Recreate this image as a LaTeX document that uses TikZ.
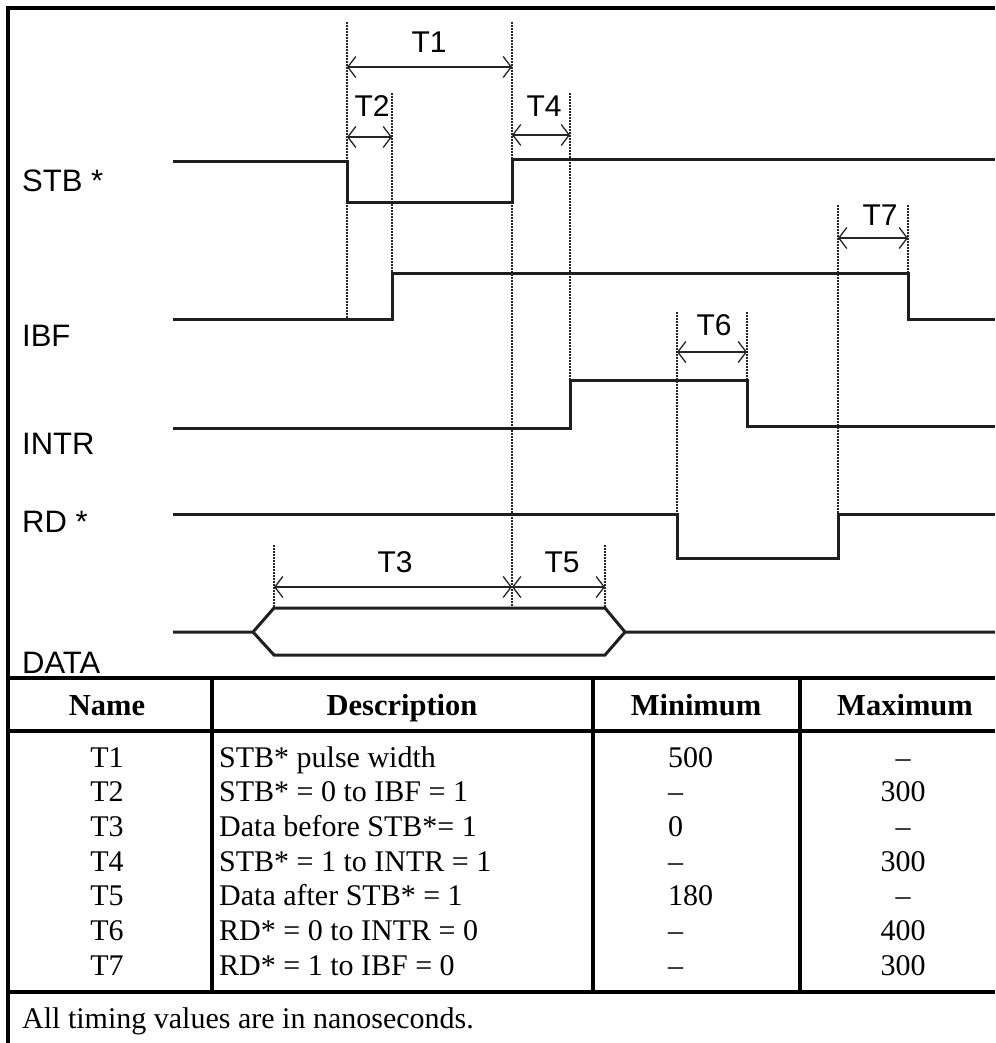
\documentclass[tikz,border=0pt]{standalone}
\usepackage{fontspec}
\setmainfont{Liberation Serif}
\newfontfamily\labelfont{Liberation Sans}
\usetikzlibrary{arrows.meta}
\begin{document}
\begin{tikzpicture}[x=1pt,y=-1pt,
  sig/.style={line width=3pt, color=black!88, line join=miter},
  frame/.style={line width=3.2pt, black},
  guide/.style={line width=1.4pt, dash pattern=on 1.6pt off 1.4pt, black!85},
  dim/.style={line width=1.3pt, black!85, {Straight Barb[length=8pt,width=21pt]}-{Straight Barb[length=8pt,width=21pt]}},
  tlbl/.style={font=\labelfont\fontsize{30}{36}\selectfont, inner sep=0pt, anchor=base},
  siglbl/.style={font=\labelfont\fontsize{31}{37}\selectfont, inner sep=0pt, anchor=base west},
  th/.style={font=\bfseries\fontsize{30.5}{36}\selectfont, inner sep=0pt, anchor=base},
  tc/.style={font=\fontsize{30}{35}\selectfont, inner sep=0pt, anchor=base},
  tw/.style={font=\fontsize{30}{35}\selectfont, inner sep=0pt, anchor=base west}
]
\useasboundingbox (0,0) rectangle (995,1043);
% outer frame
\draw[frame] (6.4,8) -- (995,8);
\draw[frame] (8,6.4) -- (8,1043);
% signal names
\node[siglbl] (nstb) at (22,191) {STB *};
\node[siglbl] (nibf) at (22,346) {IBF};
\node[siglbl] (nintr) at (22,454) {INTR};
\node[siglbl] (nrd) at (22,532) {RD *};
\node[siglbl] (ndata) at (22,673) {DATA};
% guides
\draw[guide] (347,22) -- (347,319);
\draw[guide] (392,93) -- (392,273);
\draw[guide] (512,22) -- (512,608);
\draw[guide] (570,93) -- (570,380);
\draw[guide] (677,312) -- (677,514);
\draw[guide] (747,312) -- (747,380);
\draw[guide] (838,205) -- (838,514);
\draw[guide] (908,205) -- (908,273);
\draw[guide] (274,545) -- (274,608);
\draw[guide] (605,545) -- (605,608);
% signals
\draw[sig] (173,162) -- (347,162) -- (347,202) -- (512,202) -- (512,160) -- (995,160);
\draw[sig] (173,319) -- (392,319) -- (392,273) -- (908,273) -- (908,319) -- (995,319);
\draw[sig] (173,428) -- (570,428) -- (570,380) -- (747,380) -- (747,426) -- (995,426);
\draw[sig] (173,514) -- (677,514) -- (677,558) -- (838,558) -- (838,514) -- (995,514);
\draw[sig] (173,632) -- (253,632) -- (274,608) -- (605,608) -- (625,632) -- (995,632);
\draw[sig] (253,632) -- (274,655) -- (605,655) -- (625,632);
% dimension arrows
\draw[dim] (347,67) -- (512,67);
\draw[dim] (347,137) -- (392,137);
\draw[dim] (512,135) -- (570,135);
\draw[dim] (838,238) -- (908,238);
\draw[dim] (677,352) -- (747,352);
\draw[dim] (274,587) -- (512,587);
\draw[dim] (512,587) -- (605,587);
\node[tlbl] (t1) at (429,53) {T1};
\node[tlbl] (t2) at (372,117) {T2};
\node[tlbl] (t4) at (544,117) {T4};
\node[tlbl] (t7) at (880,225) {T7};
\node[tlbl] (t6) at (714,335) {T6};
\node[tlbl] (t3) at (395,572) {T3};
\node[tlbl] (t5) at (562,572) {T5};
% table
\draw[frame] (6.4,678) -- (995,678);
\draw[frame] (6.4,731) -- (995,731);
\draw[frame] (6.4,992) -- (995,992);
\draw[frame] (212,678) -- (212,992);
\draw[frame] (593,678) -- (593,992);
\draw[frame] (800,678) -- (800,992);
\node[th] (hname) at (107,715) {Name};
\node[th] (hdesc) at (402,715) {Description};
\node[th] (hmin) at (696,715) {Minimum};
\node[th] (hmax) at (905,715) {Maximum};
\foreach \i/\n/\d/\mn/\mx in {0/T1/{STB* pulse width}/500/--,
  1/T2/{STB* = 0 to IBF = 1}/--/300,
  2/T3/{Data before STB*= 1}/0/--,
  3/T4/{STB* = 1 to INTR = 1}/--/300,
  4/T5/{Data after STB* = 1}/180/--,
  5/T6/{RD* = 0 to INTR = 0}/--/400,
  6/T7/{RD* = 1 to IBF = 0}/--/300}{
  \node[tc] (rn\i) at (107,{767+34.7*\i}) {\n};
  \node[tw] (rd\i) at (219,{767+34.7*\i}) {\d};
  \node[tw] (rmin\i) at (668,{767+34.7*\i}) {\mn};
  \node[tc] (rmax\i) at (903,{767+34.7*\i}) {\mx};
}
\node[tw] (foot) at (22,1028) {All timing values are in nanoseconds.};
\end{tikzpicture}
\end{document}
